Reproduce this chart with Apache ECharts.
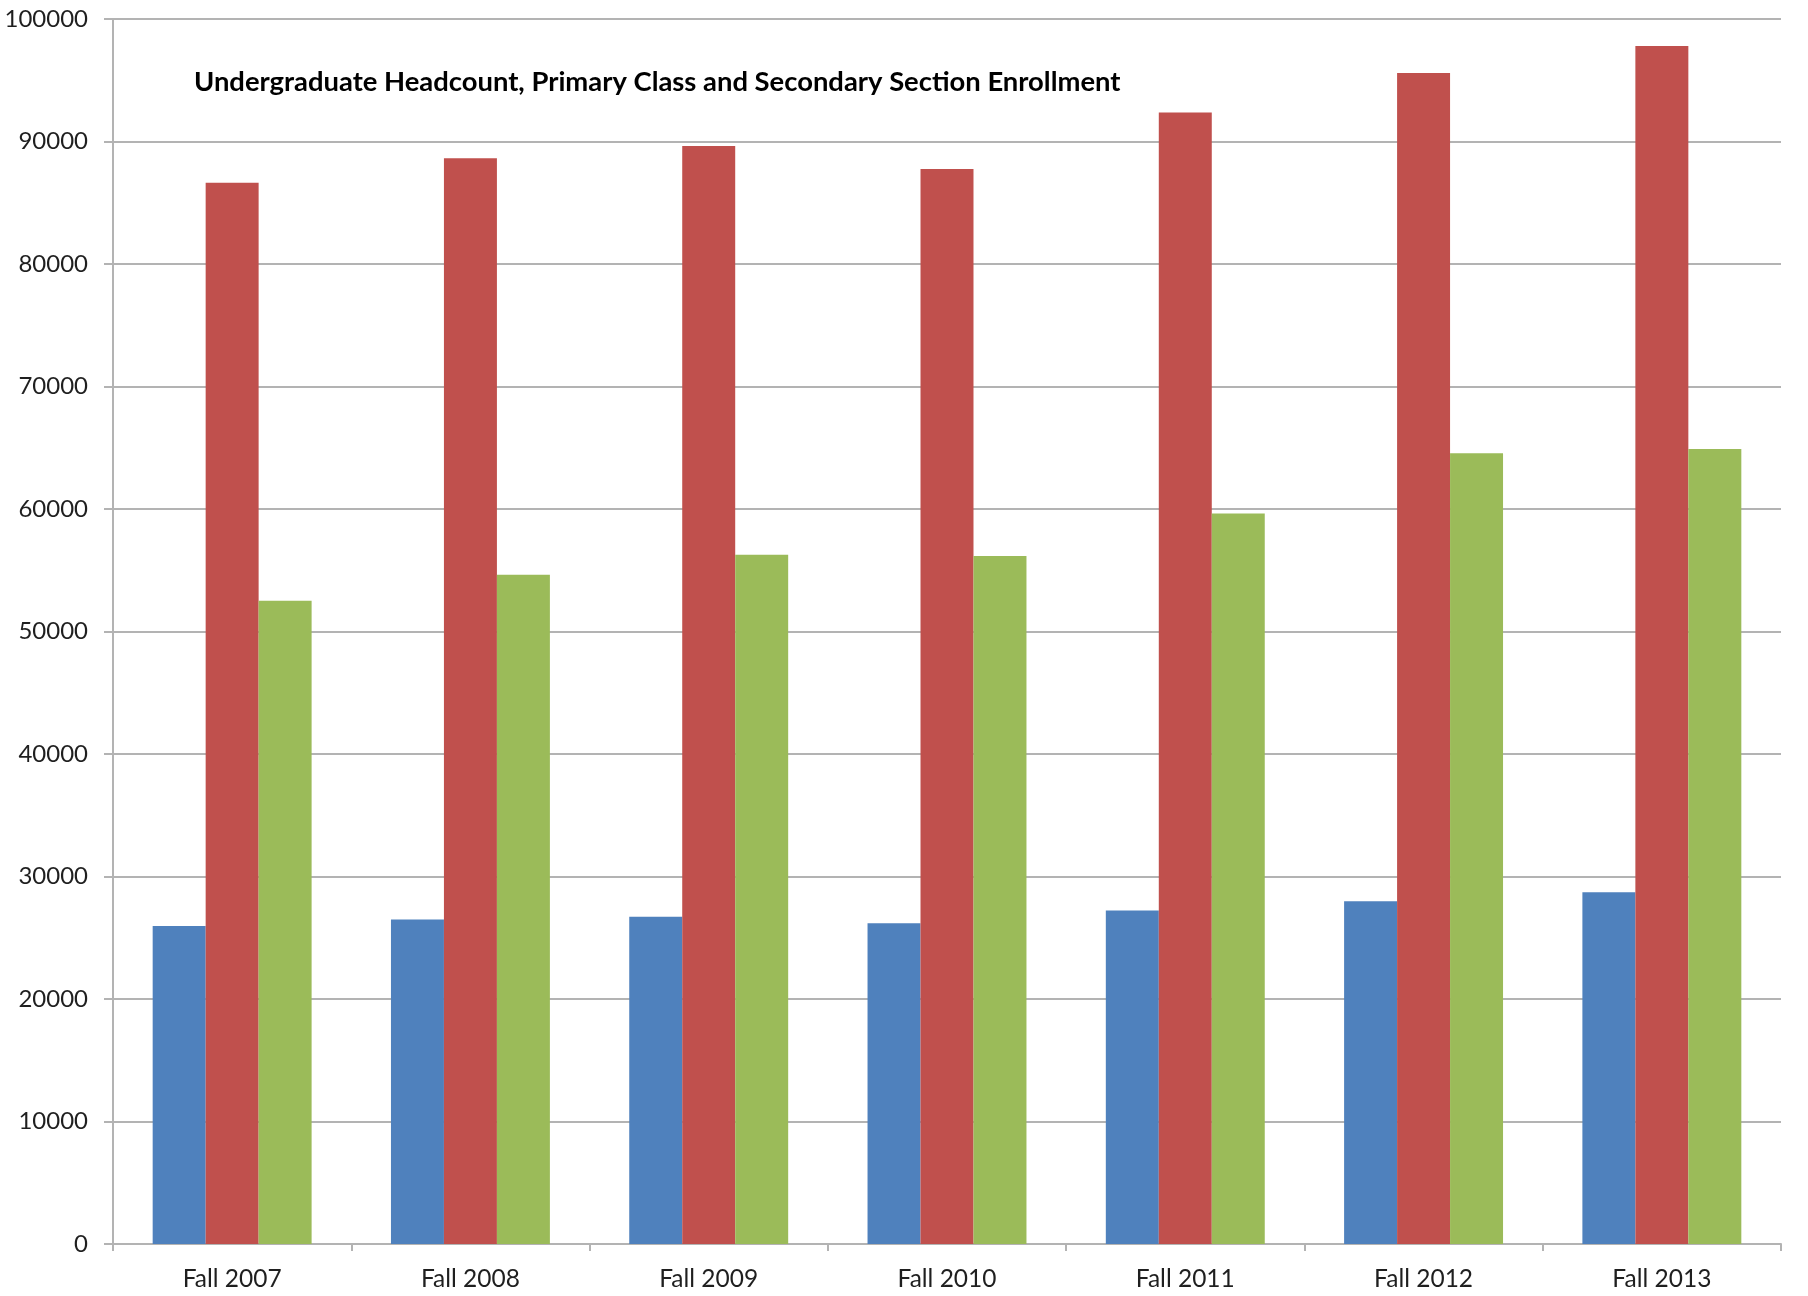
<!DOCTYPE html>
<html>
<head>
<meta charset="utf-8">
<script src="https://cdn.jsdelivr.net/npm/echarts@6/dist/echarts.min.js"></script>
<style>
  html, body { margin: 0; padding: 0; background: #ffffff; }
  #chart { width: 1808px; height: 1296px; }
</style>
</head>
<body>
<div id="chart"></div>
<script>
// Enrollment by fall term
const terms = ['Fall 2007', 'Fall 2008', 'Fall 2009', 'Fall 2010', 'Fall 2011', 'Fall 2012', 'Fall 2013'];
const headcount = [25960, 26480, 26720, 26180, 27230, 27970, 28710];
const primaryClass = [86640, 88630, 89640, 87750, 92360, 95590, 97800];
const secondarySection = [52510, 54640, 56260, 56160, 59640, 64550, 64890];

const titleText = 'Undergraduate Headcount, Primary Class and Secondary Section Enrollment';
const fontFamily = 'Lato, "Open Sans", sans-serif';

// Size the bold heading so it spans its intended width
function fitFontSize(text, weight, family, targetWidth) {
  const ctx = document.createElement('canvas').getContext('2d');
  ctx.font = weight + ' 100px ' + family;
  const w = ctx.measureText(text).width;
  return Math.round(100 * targetWidth / w * 10) / 10;
}
const titleSize = fitFontSize(titleText, 'bold', fontFamily, 926);

const chart = echarts.init(document.getElementById('chart'));
const gridColor = '#b3b3b3';
const labelColor = '#1f1f1f';

chart.setOption({
  backgroundColor: '#ffffff',
  animation: false,
  title: {
    text: titleText,
    left: 194,
    top: 86 - titleSize * 0.62,
    padding: 0,
    textStyle: { fontFamily: fontFamily, fontWeight: 'bold', fontSize: titleSize, color: '#000000' }
  },
  grid: { left: 113, top: 19, right: 27, bottom: 52, containLabel: false },
  xAxis: {
    type: 'category',
    data: terms,
    boundaryGap: true,
    axisLine: { lineStyle: { color: gridColor, width: 2 } },
    axisTick: { show: true, length: 7, lineStyle: { color: gridColor, width: 2 } },
    axisLabel: { color: labelColor, fontFamily: fontFamily, fontSize: 24.5, margin: 23 }
  },
  yAxis: {
    type: 'value',
    min: 0,
    max: 100000,
    interval: 10000,
    axisLine: { show: true, lineStyle: { color: gridColor, width: 2 } },
    axisTick: { show: true, length: 9, lineStyle: { color: gridColor, width: 2 } },
    axisLabel: {
      color: labelColor, fontFamily: fontFamily, fontSize: 24, margin: 25,
      formatter: function (v) { return String(v); }
    },
    splitLine: { show: true, lineStyle: { color: gridColor, width: 2 } }
  },
  series: [
    {
      name: 'Undergraduate Headcount',
      type: 'bar',
      data: headcount,
      barGap: '0%',
      barCategoryGap: '33.3%',
      itemStyle: { color: '#4f81bd' }
    },
    {
      name: 'Primary Class Enrollment',
      type: 'bar',
      data: primaryClass,
      barGap: '0%',
      barCategoryGap: '33.3%',
      itemStyle: { color: '#c0504d' }
    },
    {
      name: 'Secondary Section Enrollment',
      type: 'bar',
      data: secondarySection,
      barGap: '0%',
      barCategoryGap: '33.3%',
      itemStyle: { color: '#9bbb59' }
    }
  ]
});
</script>
</body>
</html>
